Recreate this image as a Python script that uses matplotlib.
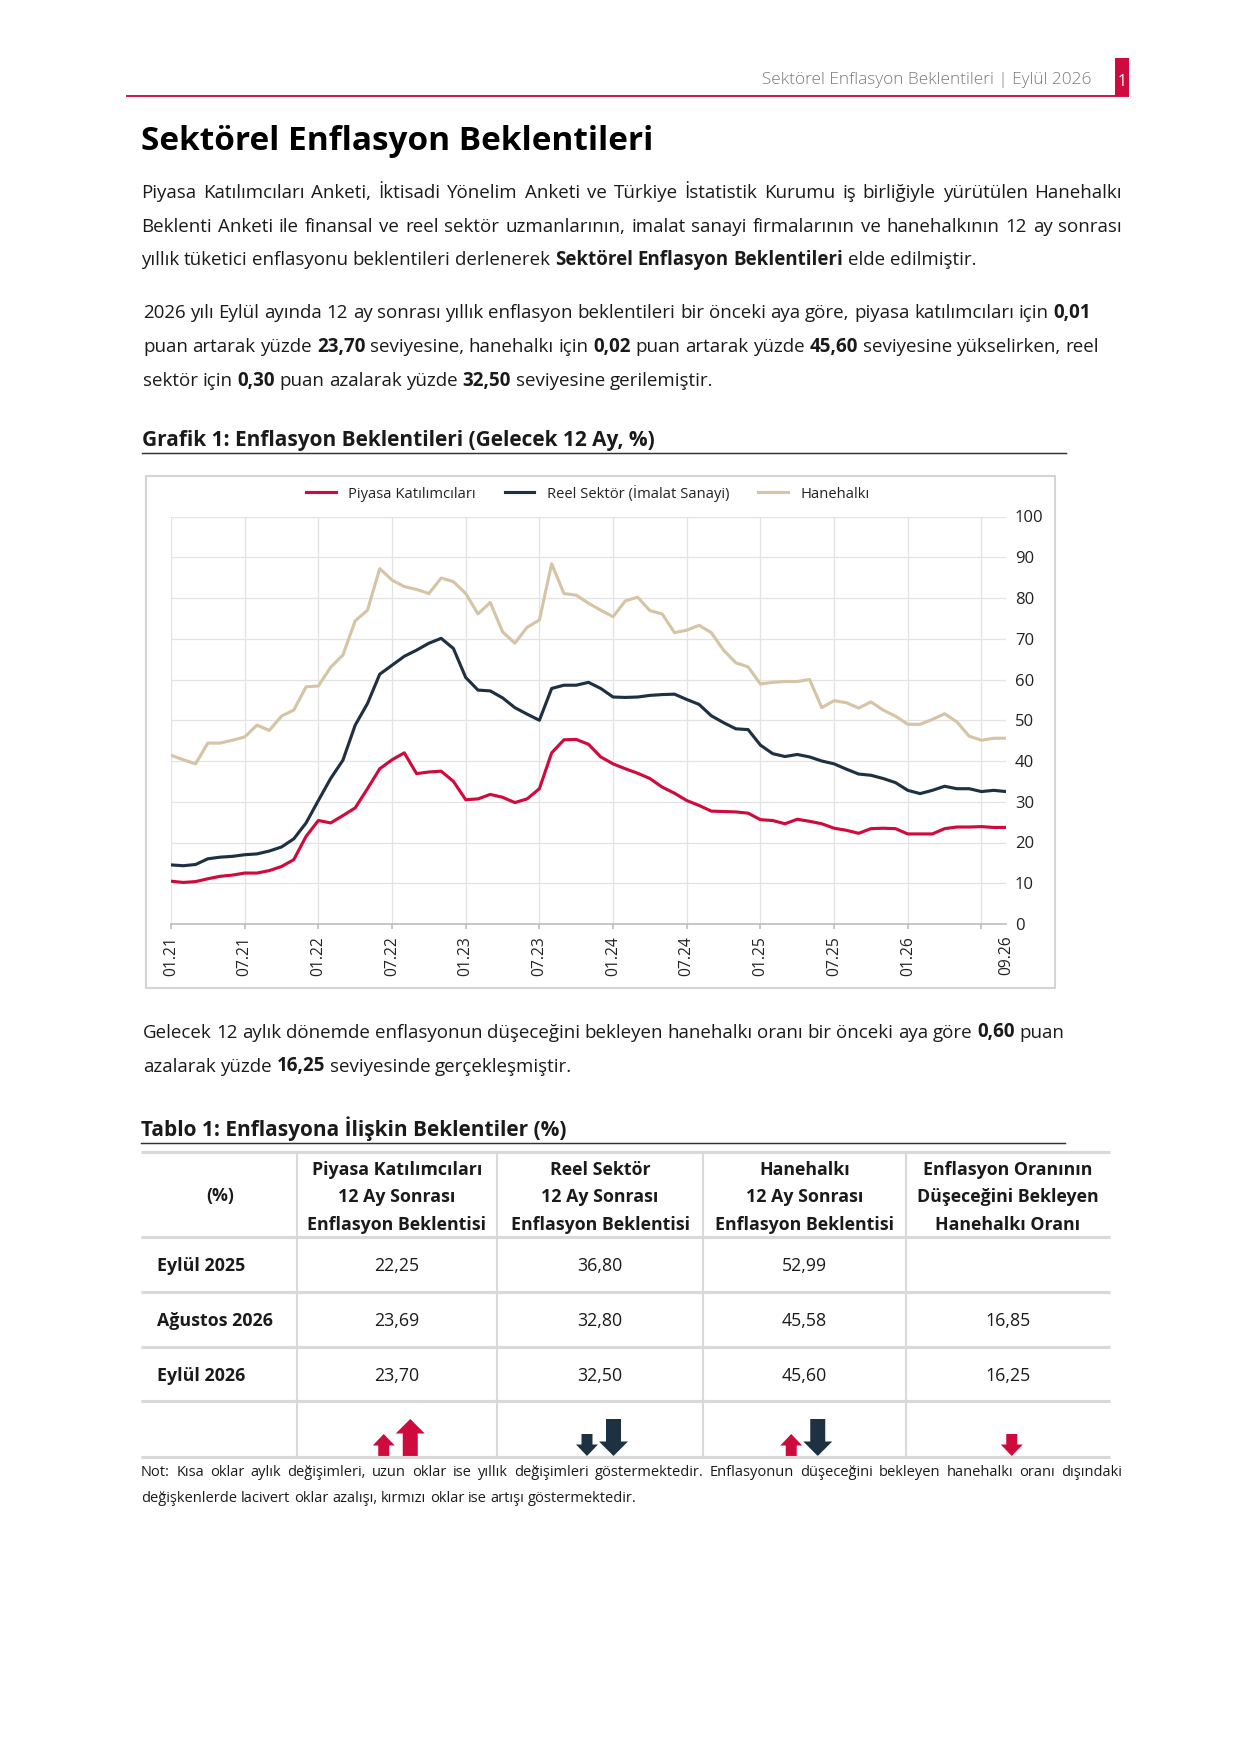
import matplotlib
matplotlib.use("Agg")
import matplotlib.pyplot as plt
from matplotlib.patches import Rectangle, Polygon
from matplotlib.lines import Line2D

plt.rcParams['font.family'] = ['Open Sans', 'DejaVu Sans']

# ---------------- data ----------------
month_labels = ['01.21', '07.21', '01.22', '07.22', '01.23', '07.23', '01.24',
                '07.24', '01.25', '07.25', '01.26', '']
last_label = '09.26'

piyasa = [10.5, 10.2, 10.4, 11.1, 11.7, 12.0, 12.5, 12.5, 13.1, 14.1,
          15.8, 21.5, 25.4, 24.8, 26.6, 28.5, 33.2, 38.1, 40.3, 42.0,
          36.9, 37.3, 37.5, 35.0, 30.5, 30.7, 31.8, 31.1, 29.8, 30.7,
          33.2, 42.0, 45.2, 45.3, 44.1, 41.0, 39.3, 38.1, 37.0, 35.7,
          33.6, 32.1, 30.3, 29.1, 27.7, 27.6, 27.5, 27.2, 25.6, 25.4,
          24.6, 25.7, 25.2, 24.6, 23.5, 23.0, 22.25, 23.4, 23.5, 23.4,
          22.1, 22.1, 22.1, 23.4, 23.8, 23.8, 23.9, 23.69, 23.70]

reel = [14.5, 14.3, 14.6, 16.0, 16.4, 16.6, 17.0, 17.2, 17.9, 18.9,
        20.9, 24.8, 30.3, 35.7, 40.2, 48.8, 54.1, 61.3, 63.5, 65.7,
        67.2, 68.9, 70.1, 67.6, 60.5, 57.4, 57.2, 55.5, 53.1, 51.5,
        50.0, 57.8, 58.6, 58.6, 59.3, 57.8, 55.7, 55.6, 55.7, 56.1,
        56.3, 56.4, 55.1, 53.9, 51.1, 49.4, 47.9, 47.7, 43.9, 41.8,
        41.1, 41.6, 41.0, 40.0, 39.3, 38.0, 36.8, 36.5, 35.7, 34.7,
        32.8, 32.0, 32.8, 33.8, 33.2, 33.2, 32.5, 32.8, 32.5]

hane = [41.4, 40.3, 39.3, 44.4, 44.4, 45.1, 45.9, 48.8, 47.5, 51.0,
        52.5, 58.2, 58.4, 63.0, 66.0, 74.4, 77.0, 87.2, 84.4, 82.8,
        82.1, 81.1, 84.9, 84.0, 81.1, 76.1, 78.9, 71.7, 68.9, 72.8,
        74.6, 88.4, 81.1, 80.7, 78.7, 77.0, 75.4, 79.3, 80.2, 76.9,
        76.1, 71.5, 72.1, 73.3, 71.5, 67.2, 64.1, 63.1, 58.9, 59.3,
        59.5, 59.5, 60.0, 53.1, 54.8, 54.3, 52.99, 54.5, 52.5, 51.0,
        49.0, 49.0, 50.2, 51.6, 49.6, 46.1, 45.1, 45.58, 45.60]

series_names = ['Piyasa Katılımcıları', 'Reel Sektör (İmalat Sanayi)', 'Hanehalkı']

table_rows = ['Eylül 2025', 'Ağustos 2026', 'Eylül 2026']
col_piyasa = [22.25, 23.69, 23.70]
col_reel = [36.80, 32.80, 32.50]
col_hane = [52.99, 45.58, 45.60]
col_dusus = [None, 16.85, 16.25]
table_headers = ['(%)',
                 'Piyasa Katılımcıları\n12 Ay Sonrası\nEnflasyon Beklentisi',
                 'Reel Sektör\n12 Ay Sonrası\nEnflasyon Beklentisi',
                 'Hanehalkı\n12 Ay Sonrası\nEnflasyon Beklentisi',
                 'Enflasyon Oranının\nDüşeceğini Bekleyen\nHanehalkı Oranı']

# ---------------- style ----------------
RED = '#CF0A3C'
NAVY = '#1E3142'
TAN = '#D6C4A6'
TXT = '#1a1a1a'
GRID = '#e3e3e3'
TBL = '#d9d9d9'

W, H = 1240, 1755
DPI = 150
fig = plt.figure(figsize=(W / DPI, H / DPI), dpi=DPI)
page = fig.add_axes([0, 0, 1, 1])
page.set_xlim(0, W)
page.set_ylim(H, 0)
page.axis('off')
renderer = fig.canvas.get_renderer()


def measure(s, size, bold):
    t = page.text(0, 0, s, fontsize=size, fontweight='bold' if bold else 'normal')
    w = t.get_window_extent(renderer).width
    t.remove()
    return w


def text_line(x0, yb, runs, size, width=None, color=TXT):
    words = []
    for txt, b in runs:
        for wd in txt.split():
            words.append((wd, b))
    objs, widths = [], []
    for wd, b in words:
        t = page.text(0, yb, wd, fontsize=size, fontweight='bold' if b else 'normal',
                      va='baseline', ha='left', color=color)
        widths.append(t.get_window_extent(renderer).width)
        objs.append(t)
    space = measure('n n', size, False) - measure('nn', size, False)
    gap = space
    if width is not None and len(words) > 1:
        gap = max((width - sum(widths)) / (len(words) - 1), 0.6 * space)
    x = x0
    for t, w in zip(objs, widths):
        t.set_x(x)
        x += w + gap


# ---------------- header ----------------
page.plot([126, 1129], [96, 96], color=RED, lw=0.9, solid_capstyle='butt')
page.add_patch(Rectangle((1115, 58), 14, 38, color=RED, lw=0))
page.text(1122, 86, '1', color='white', fontsize=7.5, ha='center', va='baseline')
page.text(1091, 84, 'Sektörel Enflasyon Beklentileri | Eylül 2026', color='#7a7a7a',
          fontsize=8.3, fontweight='light', ha='right', va='baseline')

page.text(141, 150, 'Sektörel Enflasyon Beklentileri', fontsize=16, fontweight='bold',
          color='black', ha='left', va='baseline')

BODY = 9.0
text_line(141, 198, [('Piyasa Katılımcıları Anketi, İktisadi Yönelim Anketi ve Türkiye İstatistik Kurumu iş birliğiyle yürütülen Hanehalkı', False)], BODY, width=981)
text_line(141, 231.5, [('Beklenti Anketi ile finansal ve reel sektör uzmanlarının, imalat sanayi firmalarının ve hanehalkının 12 ay sonrası', False)], BODY, width=981)
text_line(141, 265, [('yıllık tüketici enflasyonu beklentileri derlenerek', False), ('Sektörel Enflasyon Beklentileri', True), ('elde edilmiştir.', False)], BODY, width=835)

text_line(143, 318, [('2026 yılı Eylül ayında 12 ay sonrası yıllık enflasyon beklentileri bir önceki aya göre, piyasa katılımcıları için', False), ('0,01', True)], BODY, width=948)
text_line(143, 351.5, [('puan artarak yüzde', False), ('23,70', True), ('seviyesine, hanehalkı için', False), ('0,02', True),
                       ('puan artarak yüzde', False), ('45,60', True), ('seviyesine yükselirken, reel', False)], BODY, width=956)
text_line(143, 385.5, [('sektör için', False), ('0,30', True), ('puan azalarak yüzde', False), ('32,50', True), ('seviyesine gerilemiştir.', False)], BODY, width=570)

# ---------------- chart heading ----------------
page.text(142, 446, 'Grafik 1: Enflasyon Beklentileri (Gelecek 12 Ay, %)', fontsize=10,
          fontweight='bold', color=TXT, ha='left', va='baseline')
page.plot([142, 1066], [453, 453], color='#333333', lw=0.7)

page.add_patch(Rectangle((146, 476), 909, 512, fill=False, edgecolor='#d4d4d4', lw=1.0))

# ---------------- chart ----------------
x0p, x1p, y0p, y1p = 171, 1006, 924, 516.5
ax = fig.add_axes([x0p / W, 1 - y0p / H, (x1p - x0p) / W, (y0p - y1p) / H])
ax.patch.set_alpha(0)
months = list(range(len(piyasa)))
ax.plot(months, hane, color=TAN, lw=1.5, label=series_names[2], zorder=3)
ax.plot(months, reel, color=NAVY, lw=1.5, label=series_names[1], zorder=4)
ax.plot(months, piyasa, color=RED, lw=1.5, label=series_names[0], zorder=5)
ax.set_xlim(0, len(piyasa) - 1)
ax.set_ylim(0, 100)
ax.set_yticks(range(0, 101, 10))
ax.set_xticks(range(0, 6 * len(month_labels), 6), labels=month_labels)
ax.set_xticks([len(piyasa) - 1], labels=[last_label], minor=True)
for s in ['top', 'left', 'right']:
    ax.spines[s].set_visible(False)
ax.spines['bottom'].set_color('#bdbdbd')
ax.spines['bottom'].set_linewidth(0.8)
ax.tick_params(axis='y', length=0, labelright=True, labelleft=False, pad=4.3,
               labelsize=8, labelcolor='#222222')
ax.tick_params(axis='x', which='major', length=2.5, color='#bdbdbd', width=0.8,
               labelrotation=90, labelsize=7.5, pad=3.2, labelcolor='#222222')
ax.tick_params(axis='x', which='minor', length=0, labelrotation=90, labelsize=7.5,
               pad=5.6, labelcolor='#222222')
ax.grid(True, axis='both', which='major', color=GRID, lw=0.6, zorder=0)
ax.set_axisbelow(True)

handles = [Line2D([], [], color=RED, lw=1.5), Line2D([], [], color=NAVY, lw=1.5),
           Line2D([], [], color=TAN, lw=1.5)]
fig.legend(handles, series_names, loc='center', ncol=3, frameon=False, fontsize=7.1,
           bbox_to_anchor=(588 / W, 1 - 493 / H), handlelength=2.0, handletextpad=0.85,
           columnspacing=1.95, labelcolor='#222222')

# ---------------- paragraph 3 ----------------
text_line(143, 1037.5, [('Gelecek 12 aylık dönemde enflasyonun düşeceğini bekleyen hanehalkı oranı bir önceki aya göre', False),
                        ('0,60', True), ('puan', False)], BODY, width=921)
text_line(143, 1071.5, [('azalarak yüzde', False), ('16,25', True), ('seviyesinde gerçekleşmiştir.', False)], BODY, width=429)

# ---------------- table ----------------
page.text(141, 1136, 'Tablo 1: Enflasyona İlişkin Beklentiler (%)', fontsize=10,
          fontweight='bold', color=TXT, ha='left', va='baseline')
page.plot([141, 1065], [1142.5, 1142.5], color='#333333', lw=0.7)

tx = [141, 296.5, 497, 703, 905.5, 1110]
ty = [1151.5, 1236.5, 1291.5, 1346.5, 1401, 1456.5]
for yy in ty:
    page.plot([tx[0], tx[-1]], [yy, yy], color=TBL, lw=1.5, solid_capstyle='butt', zorder=2)
for xx in tx[1:-1]:
    page.plot([xx, xx], [ty[0], ty[-1]], color=TBL, lw=1.0, zorder=1)

centers = [(tx[i] + tx[i + 1]) / 2 for i in range(5)]
TS = 8.5
for i, hdr in enumerate(table_headers):
    lines = hdr.split('\n')
    if len(lines) == 1:
        page.text(centers[i] + 1, 1201.5, lines[0], fontsize=TS, fontweight='bold', color=TXT,
                  ha='center', va='baseline')
    else:
        for k, ln in enumerate(lines):
            page.text(centers[i], 1175 + 27.5 * k, ln, fontsize=TS, fontweight='bold',
                      color=TXT, ha='center', va='baseline')

row_base = [1271, 1326.5, 1381]
cols = [col_piyasa, col_reel, col_hane, col_dusus]
for r, lab in enumerate(table_rows):
    page.text(156.5, row_base[r], lab, fontsize=TS, fontweight='bold', color=TXT,
              ha='left', va='baseline')
    for c, col in enumerate(cols):
        v = col[r]
        if v is None:
            continue
        page.text(centers[c + 1], row_base[r], f'{v:.2f}'.replace('.', ','), fontsize=TS,
                  color=TXT, ha='center', va='baseline')


def arrow(xc, base, up, long, color):
    if long:
        h, hh, hw, sw = 37, 14.5, 29, 15
    else:
        h, hh, hw, sw = 22, 11.5, 22, 11
    top = base - h
    if up:
        pts = [(xc - sw / 2, base), (xc - sw / 2, top + hh), (xc - hw / 2, top + hh), (xc, top),
               (xc + hw / 2, top + hh), (xc + sw / 2, top + hh), (xc + sw / 2, base)]
    else:
        pts = [(xc - sw / 2, top), (xc - sw / 2, base - hh), (xc - hw / 2, base - hh), (xc, base),
               (xc + hw / 2, base - hh), (xc + sw / 2, base - hh), (xc + sw / 2, top)]
    page.add_patch(Polygon(pts, closed=True, color=color, lw=0, zorder=1))


abase = ty[-1] - 0.5
for c, col in enumerate(cols):
    inverse = (c == 3)
    m = col[2] - col[1]
    cx = centers[c + 1]
    if col[0] is not None:
        y_ch = col[2] - col[0]
        up_m, up_y = m > 0, y_ch > 0
        colm = RED if (up_m != inverse) else NAVY
        coly = RED if (up_y != inverse) else NAVY
        arrow(cx - 13, abase, up_m, False, colm)
        arrow(cx + 13.5, abase, up_y, True, coly)
    else:
        up_m = m > 0
        colm = RED if (up_m != inverse) else NAVY
        arrow(cx + 4, abase, up_m, False, colm)

# ---------------- note ----------------
NS = 7
text_line(141, 1476.5, [('Not: Kısa oklar aylık değişimleri, uzun oklar ise yıllık değişimleri göstermektedir. Enflasyonun düşeceğini bekleyen hanehalkı oranı dışındaki', False)], NS, width=981)
text_line(141, 1501.5, [('değişkenlerde lacivert oklar azalışı, kırmızı oklar ise artışı göstermektedir.', False)], NS)

fig.savefig('out.png', dpi=DPI, facecolor='white')
